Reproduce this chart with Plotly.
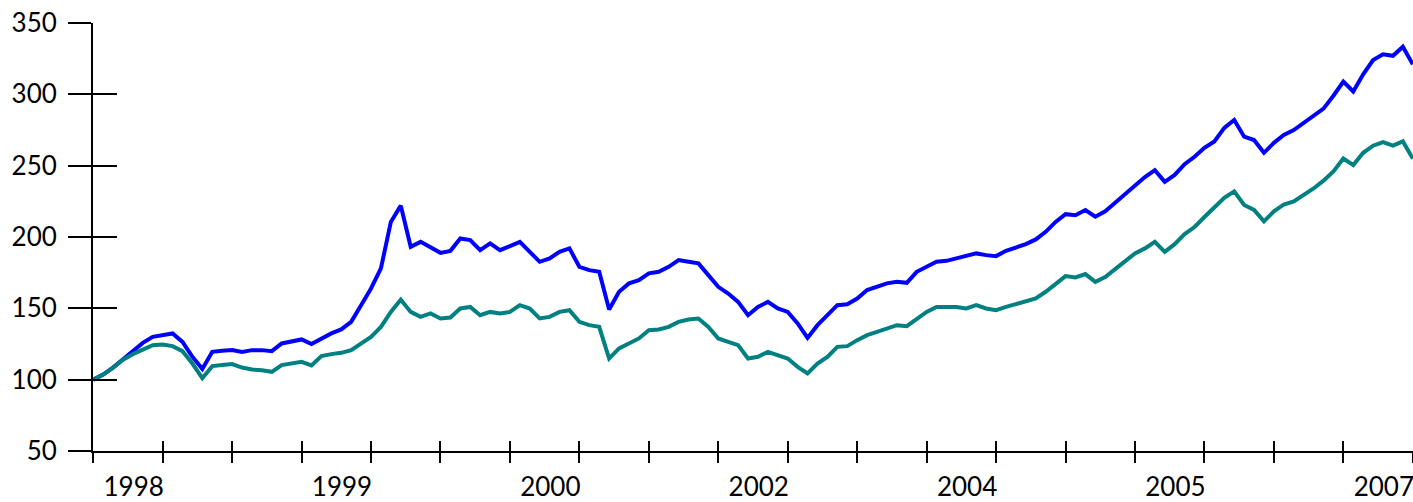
import plotly.graph_objects as go

series_a = [100, 103.6, 108.5, 114.4, 120.2, 125.8, 130.0, 131.2, 132.4, 126.5,
            116.0, 107.5, 119.5, 120.2, 120.7, 119.5, 120.7, 120.7, 120.0, 125.4,
            126.5, 128.2, 125.0, 128.9, 132.4, 135.2, 140.5, 152.2, 163.9, 178.0,
            210.6, 222.0, 193.1, 196.6, 192.7, 188.9, 190.3, 199.0, 197.8, 190.8,
            195.5, 190.8, 193.6, 196.6, 189.6, 182.6, 185.0, 189.6, 192.0, 179.1,
            176.8, 175.6, 149.2, 161.6, 167.5, 169.8, 174.5, 175.6, 179.1, 183.8,
            182.6, 181.5, 173.3, 165.1, 160.4, 154.5, 145.2, 151.0, 154.5, 149.9,
            147.5, 139.4, 129.3, 138.2, 145.2, 152.2, 152.9, 156.9, 162.8, 165.1,
            167.5, 168.6, 167.9, 175.6, 179.1, 182.6, 183.3, 185.0, 186.1, 188.5,
            187.3, 186.6, 190.3, 192.7, 195.0, 198.3, 203.6, 210.6, 216.0, 215.3,
            218.9, 214.2, 218.0, 224.0, 230.0, 235.2, 242.0, 246.9, 238.7, 243.5,
            251.0, 256.2, 262.5, 267.0, 276.5, 282.0, 270.3, 268.0, 259.0, 266.0,
            271.5, 275.0, 280.0, 284.5, 290.0, 299.0, 309.0, 302.0, 314.0, 324.0,
            328.0, 327.0, 333.4, 321.0]

series_b = [100, 103.6, 108.5, 114.0, 117.9, 120.7, 124.2, 124.7, 123.5, 120.0,
            111.3, 101.0, 109.5, 110.2, 110.9, 108.5, 107.1, 106.6, 105.5, 110.2,
            111.3, 112.5, 110.0, 116.5, 117.9, 118.8, 120.7, 125.4, 130.0, 137.0,
            147.5, 156.0, 147.5, 144.0, 146.4, 142.9, 143.6, 149.9, 151.0, 145.2,
            147.5, 146.4, 147.5, 152.2, 149.9, 142.9, 144.0, 147.5, 148.7, 140.5,
            138.2, 137.0, 114.8, 121.9, 125.4, 128.9, 134.7, 135.2, 137.0, 140.5,
            142.2, 142.9, 137.0, 128.9, 126.5, 124.2, 114.8, 116.0, 119.5, 117.2,
            114.8, 109.0, 104.3, 111.3, 116.0, 123.0, 123.5, 127.7, 131.2, 133.5,
            135.9, 138.2, 137.5, 142.9, 147.5, 151.0, 151.0, 151.0, 149.9, 152.2,
            149.9, 148.7, 151.0, 152.9, 155.3, 156.9, 161.6, 167.5, 172.6, 171.7,
            174.0, 168.6, 172.0, 177.5, 183.0, 188.5, 192.0, 196.6, 189.6, 195.0,
            202.0, 207.0, 214.0, 221.0, 227.5, 232.0, 222.4, 219.0, 211.0, 218.0,
            222.8, 225.0, 229.5, 234.0, 239.5, 246.0, 255.0, 250.4, 259.0, 264.0,
            266.5, 264.0, 267.0, 255.0]

x_index = list(range(len(series_a)))

x_tick_positions = list(range(0, 134, 7))
x_tick_labels = ["", "1998", "", "", "1999", "", "", "2000", "", "", "2002",
                 "", "", "2004", "", "", "2005", "", "", "2007"]
y_ticks = [50, 100, 150, 200, 250, 300, 350]

FONT = "Lato"

fig = go.Figure()
fig.add_trace(go.Scatter(x=x_index, y=series_a, mode="lines",
                         line=dict(color="#0000FF", width=4),
                         xaxis="x", yaxis="y", hoverinfo="skip"))
fig.add_trace(go.Scatter(x=x_index, y=series_b, mode="lines",
                         line=dict(color="#008080", width=4),
                         xaxis="x2", yaxis="y2", hoverinfo="skip"))

x_range = [-0.02, len(series_a) - 1 + 0.02]
y_range = [50, 350]

fig.update_layout(
    width=1413, height=502,
    margin=dict(l=93, r=0, t=23, b=51, autoexpand=False),
    plot_bgcolor="white", paper_bgcolor="white",
    showlegend=False,
    font=dict(family=FONT, size=26, color="black"),
    xaxis=dict(range=x_range, tickmode="array", tickvals=x_tick_positions,
               ticktext=x_tick_labels, ticks="outside", ticklen=10, tickwidth=2,
               tickcolor="black", showline=True, linewidth=2, linecolor="black",
               showgrid=False, zeroline=False, ticklabelshift=-29,
               ticklabelstandoff=2, anchor="y", automargin=False,
               ticklabeloverflow="allow",
               tickfont=dict(family=FONT, size=26, color="black")),
    xaxis2=dict(range=x_range, overlaying="x", anchor="y", side="bottom",
                tickmode="array", tickvals=x_tick_positions, ticks="inside",
                ticklen=10, tickwidth=2, tickcolor="black", showticklabels=False,
                showline=False, showgrid=False, zeroline=False, automargin=False),
    yaxis=dict(range=y_range, tickmode="array", tickvals=y_ticks,
               ticks="outside", ticklen=23, tickwidth=2, tickcolor="black",
               showline=True, linewidth=2, linecolor="black", showgrid=False,
               zeroline=False, ticklabelstandoff=6, anchor="x", automargin=False,
               ticklabeloverflow="allow",
               tickfont=dict(family=FONT, size=26, color="black")),
    yaxis2=dict(range=y_range, overlaying="y", anchor="x", side="left",
                tickmode="array", tickvals=y_ticks, ticks="inside", ticklen=24,
                tickwidth=2, tickcolor="black", showticklabels=False,
                showline=False, showgrid=False, zeroline=False, automargin=False),
)

# Remove the default page margin so the figure fills the window exactly.
fig.write_html(
    "out.html",
    config={"displayModeBar": False},
    post_script="document.body.style.margin='0';document.body.style.overflow='hidden';",
)
